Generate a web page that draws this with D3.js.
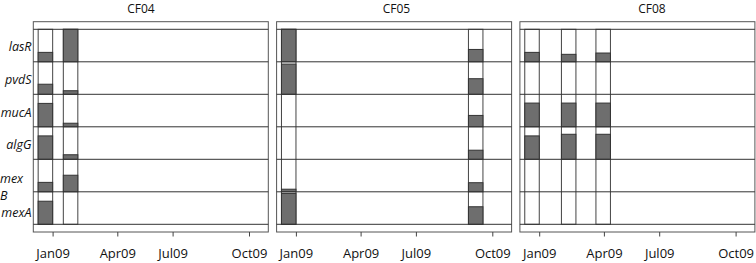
<!DOCTYPE html>
<html>
<head>
<meta charset="utf-8">
<script src="https://cdn.jsdelivr.net/npm/d3@7"></script>
<style>
  body { margin: 0; background: #fff; }
  text { font-family: "Open Sans", sans-serif; }
</style>
</head>
<body>
<script>
  // genes (rows) and patients (panels)
  let genes = ["lasR", "pvdS", "mucA", "algG", "mexB", "mexA"];
  let patients = ["CF04", "CF05", "CF08"];
  let tickLabels = ["Jan09", "Apr09", "Jul09", "Oct09"];
  let tickDates = ["2009-01-01", "2009-04-01", "2009-07-01", "2009-10-01"];

  // sampling dates per patient
  let cf04Dates = ["2008-12-22", "2009-01-26"];
  let cf05Dates = ["2008-12-22", "2009-09-11"];
  let cf08Dates = ["2008-12-22", "2009-02-11", "2009-03-31"];

  // fraction of each row filled, one array per sample, in gene order
  let cf04Values = [
    [0.29, 0.31, 0.72, 0.72, 0.29, 0.71],
    [1.00, 0.11, 0.11, 0.14, 0.51, 0.00]
  ];
  let cf05Values = [
    [1.00, 0.93, 0.00, 0.00, 0.08, 0.95],
    [0.38, 0.48, 0.35, 0.28, 0.28, 0.54]
  ];
  let cf08Values = [
    [0.29, 0.00, 0.73, 0.72, 0.00, 0.00],
    [0.23, 0.00, 0.73, 0.77, 0.00, 0.00],
    [0.27, 0.00, 0.73, 0.77, 0.00, 0.00]
  ];

  let width = 756, height = 263;
  let marginLeft = 33.3, panelW = 235, gap = 8.3;
  let frameTop = 21.7, frameBottom = 232;
  let rowsTop = 29.3, rowsBottom = 224.3;
  let barW = 14.5;

  let parse = d3.timeParse("%Y-%m-%d");

  let svg = d3.select("body").append("svg")
    .attr("width", width).attr("height", height);

  // axis positions are not evenly spaced in the original, so a piecewise scale
  let x = d3.scaleTime()
    .domain(tickDates.map(parse))
    .range([19.3, 84, 139.3, 215.7]);

  let y = d3.scaleBand().domain(genes).range([rowsTop, rowsBottom]).padding(0);
  let fill = d3.scaleLinear().domain([0, 1]).range([y.bandwidth(), 0]);

  let panelDates = [cf04Dates, cf05Dates, cf08Dates];
  let panelValues = [cf04Values, cf05Values, cf08Values];

  patients.forEach(function(p, pi) {
    let x0 = marginLeft + pi * (panelW + gap);
    let g = svg.append("g").attr("transform", "translate(" + x0 + ",0)");

    // title
    svg.append("text")
      .attr("x", 141 + pi * 255.5)
      .attr("y", 13.2)
      .attr("text-anchor", "middle")
      .style("font-size", "12px")
      .style("fill", "#111")
      .text(p);

    // frame
    g.append("rect")
      .attr("x", 0).attr("y", frameTop)
      .attr("width", panelW).attr("height", frameBottom - frameTop)
      .style("fill", "white")
      .style("stroke", "#555")
      .style("stroke-width", 1);

    // bars
    panelDates[pi].forEach(function(ds, si) {
      let cx = x(parse(ds));
      g.append("rect")
        .attr("x", cx - barW / 2).attr("y", rowsTop)
        .attr("width", barW).attr("height", rowsBottom - rowsTop)
        .style("fill", "white")
        .style("stroke", "#444")
        .style("stroke-width", 1);
      g.append("g").selectAll("rect")
        .data(panelValues[pi][si].map(function(v, i) { return {gene: genes[i], v: v}; })
          .filter(function(d) { return d.v > 0; }))
        .enter().append("rect")
        .attr("x", cx - barW / 2)
        .attr("y", function(d) { return y(d.gene) + fill(d.v); })
        .attr("width", barW)
        .attr("height", function(d) { return y.bandwidth() - fill(d.v); })
        .style("fill", "#6e6e6e")
        .style("stroke", "#333")
        .style("stroke-width", 1);
    });

    // row lines
    g.append("g").selectAll("line")
      .data(genes.map(function(d) { return y(d); }).concat([rowsBottom]))
      .enter().append("line")
      .attr("x1", 0).attr("x2", panelW)
      .attr("y1", function(d) { return d; })
      .attr("y2", function(d) { return d; })
      .style("stroke", "#333")
      .style("stroke-width", 1);

    // axis
    let axis = d3.axisBottom(x)
      .tickValues(tickDates.map(parse))
      .tickFormat(function(d, i) { return tickLabels[i]; })
      .tickSize(4.5)
      .tickPadding(12);
    let ax = g.append("g")
      .attr("transform", "translate(0," + frameBottom + ")")
      .call(axis);
    ax.select(".domain").remove();
    ax.selectAll("line").style("stroke", "#444");
    ax.selectAll("text")
      .style("font-size", "13px")
      .style("font-family", "'Open Sans', sans-serif")
      .style("fill", "#111");
  });

  // gene labels on the left
  let labelLines = [
    {t: "lasR", x: 31.5, y: 51, a: "end"},
    {t: "pvdS", x: 31.5, y: 84, a: "end"},
    {t: "mucA", x: 31.5, y: 117, a: "end"},
    {t: "algG", x: 31.5, y: 149, a: "end"},
    {t: "mex", x: 0, y: 182.5, a: "start"},
    {t: "B", x: 0, y: 199.5, a: "start"},
    {t: "mexA", x: 31.5, y: 217, a: "end"}
  ];
  svg.append("g").selectAll("text")
    .data(labelLines)
    .enter().append("text")
    .attr("x", function(d) { return d.x; })
    .attr("y", function(d) { return d.y; })
    .attr("text-anchor", function(d) { return d.a; })
    .style("font-size", "12.5px")
    .style("font-style", "italic")
    .style("fill", "#111")
    .text(function(d) { return d.t; });
</script>
</body>
</html>
